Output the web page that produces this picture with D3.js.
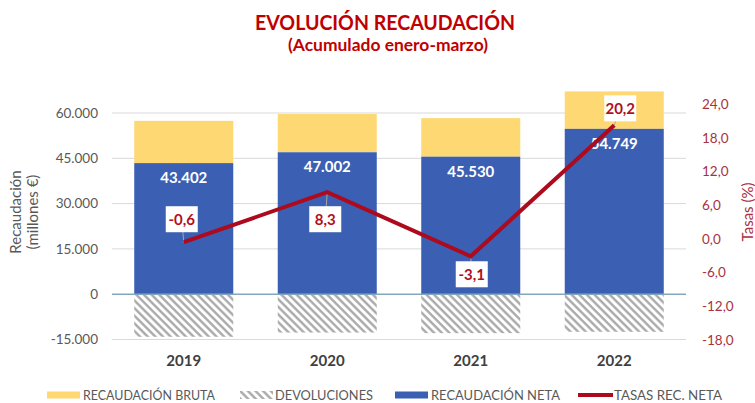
<!DOCTYPE html>
<html>
<head>
<meta charset="utf-8">
<script src="https://cdn.jsdelivr.net/npm/d3@7"></script>
<style>
  html, body { margin: 0; padding: 0; background: #fff; }
  svg { display: block; font-family: Lato, "Open Sans", sans-serif; }
</style>
</head>
<body>
<svg id="chart" width="755" height="403"></svg>
<script>
// ---- data ----
const years = ["2019", "2020", "2021", "2022"];
const recaudacionNeta = [43402, 47002, 45530, 54749];
const recaudacionBruta = [57400, 59650, 58300, 67150];
const devoluciones = [-14100, -12700, -12900, -12450];
const tasasRecNeta = [-0.6, 8.3, -3.1, 20.2];
const leftTicks = [-15000, 0, 15000, 30000, 45000, 60000];
const rightTicks = [-18, -12, -6, 0, 6, 12, 18, 24];
const legendLabels = ["RECAUDACIÓN BRUTA", "DEVOLUCIONES", "RECAUDACIÓN NETA", "TASAS REC. NETA"];

// ---- layout / style ----
const rateLabelOffsets = [[-2, -23], [-2, 27], [1, 18], [6, -17]];
const colBruta = "#FDD873", colNeta = "#3A5FB3", colLine = "#AE0A1E";
const colTitle = "#C00000", colAxis = "#595959", colRight = "#A8323E";

const svg = d3.select("#chart");
const defs = svg.append("defs");
const pat = defs.append("pattern").attr("id", "hatch")
  .attr("patternUnits", "userSpaceOnUse").attr("width", 5.4).attr("height", 5.4)
  .attr("patternTransform", "rotate(-45)");
pat.append("rect").attr("width", 5.4).attr("height", 5.4).attr("fill", "#fff");
pat.append("line").attr("x1", 1.4).attr("y1", 0).attr("x2", 1.4).attr("y2", 5.4)
  .attr("stroke", "#A6A6A6").attr("stroke-width", 2.3);

const x = d3.scaleBand().domain(years).range([112, 686]).paddingInner(0.31).paddingOuter(0.155);
const yL = d3.scaleLinear().domain([-15000, 60000]).range([339.5, 113]);
const yR = d3.scaleLinear().domain([-18, 24]).range([340, 104]);

const fmtL = d3.formatLocale({decimal: ",", thousands: ".", grouping: [3], currency: ["", "€"], minus: "-"});
const fL = fmtL.format(",.0f");
const fR = fmtL.format(",.1f");

function fit(sel, w) {
  sel.attr("textLength", w).attr("lengthAdjust", "spacingAndGlyphs");
  return sel;
}

// title
svg.append("text").attr("x", 385).attr("y", 30).attr("text-anchor", "middle")
  .attr("fill", colTitle).attr("font-weight", 700).attr("font-size", 21)
  .text("EVOLUCIÓN RECAUDACIÓN").call(fit, 260);
svg.append("text").attr("x", 388).attr("y", 51).attr("text-anchor", "middle")
  .attr("fill", colTitle).attr("font-weight", 700).attr("font-size", 17)
  .text("(Acumulado enero-marzo)").call(fit, 200);

// gridlines
svg.append("g").selectAll("line").data(leftTicks.filter(d => d !== 0)).join("line")
  .attr("x1", 112).attr("x2", 686).attr("y1", d => yL(d)).attr("y2", d => yL(d))
  .attr("stroke", "#D9D9D9").attr("stroke-width", 1);

// left axis
const axL = svg.append("g").attr("transform", "translate(112,0)")
  .call(d3.axisLeft(yL).tickValues(leftTicks).tickFormat(fL).tickSize(0).tickPadding(14));
axL.select(".domain").remove();
axL.selectAll("text").attr("fill", colAxis).attr("font-size", 13.5).attr("font-family", "Lato, sans-serif");

// right axis
const axR = svg.append("g").attr("transform", "translate(686,0)")
  .call(d3.axisRight(yR).tickValues(rightTicks).tickFormat(fR).tickSize(0).tickPadding(16));
axR.select(".domain").remove();
axR.selectAll("text").attr("fill", colRight).attr("font-size", 13.5).attr("font-family", "Lato, sans-serif");

// axis titles
const lt = svg.append("text").attr("transform", "translate(21,212) rotate(-90)")
  .attr("text-anchor", "middle").attr("fill", colAxis).attr("font-size", 15);
lt.append("tspan").attr("x", 0).attr("dy", 0).text("Recaudación");
lt.append("tspan").attr("x", 0).attr("dy", 17).text("(millones €)");
svg.append("text").attr("transform", "translate(753,212) rotate(-90)")
  .attr("text-anchor", "middle").attr("fill", colRight).attr("font-size", 15)
  .text("Tasas (%)");

// bars
const bars = svg.append("g");
bars.selectAll(".bruta").data(years).join("rect").attr("class", "bruta")
  .attr("x", d => x(d)).attr("width", x.bandwidth())
  .attr("y", (d, i) => yL(recaudacionBruta[i]))
  .attr("height", (d, i) => yL(recaudacionNeta[i]) - yL(recaudacionBruta[i]))
  .attr("fill", colBruta);
bars.selectAll(".neta").data(years).join("rect").attr("class", "neta")
  .attr("x", d => x(d)).attr("width", x.bandwidth())
  .attr("y", (d, i) => yL(recaudacionNeta[i]))
  .attr("height", (d, i) => yL(0) - yL(recaudacionNeta[i]))
  .attr("fill", colNeta);
bars.selectAll(".dev").data(years).join("rect").attr("class", "dev")
  .attr("x", d => x(d)).attr("width", x.bandwidth())
  .attr("y", yL(0))
  .attr("height", (d, i) => yL(devoluciones[i]) - yL(0))
  .attr("fill", "url(#hatch)");

// zero line
svg.append("line").attr("x1", 112).attr("x2", 686).attr("y1", yL(0)).attr("y2", yL(0))
  .attr("stroke", "#86A6C0").attr("stroke-width", 1.5);

// net labels
svg.append("g").selectAll("text").data(years).join("text")
  .attr("x", d => x(d) + x.bandwidth() / 2)
  .attr("y", (d, i) => yL(recaudacionNeta[i]) + 20)
  .attr("text-anchor", "middle").attr("fill", "#fff").attr("font-weight", 700).attr("font-size", 15)
  .text((d, i) => fL(recaudacionNeta[i]));

// line
const cx = d => x(d) + x.bandwidth() / 2;
const pts = years.map((d, i) => [cx(d), yR(tasasRecNeta[i])]);

// leader lines
svg.append("g").selectAll("line").data(years).join("line")
  .attr("x1", (d, i) => pts[i][0]).attr("y1", (d, i) => pts[i][1])
  .attr("x2", (d, i) => pts[i][0] + rateLabelOffsets[i][0])
  .attr("y2", (d, i) => pts[i][1] + rateLabelOffsets[i][1])
  .attr("stroke", "#A6A6A6").attr("stroke-width", 1);

svg.append("path").datum(pts).attr("d", d3.line())
  .attr("fill", "none").attr("stroke", colLine).attr("stroke-width", 4).attr("stroke-linejoin", "miter");

// rate labels
const rl = svg.append("g").selectAll("g").data(years).join("g")
  .attr("transform", (d, i) => `translate(${pts[i][0] + rateLabelOffsets[i][0]},${pts[i][1] + rateLabelOffsets[i][1]})`);
rl.append("rect").attr("x", -16).attr("y", -13).attr("width", 32).attr("height", 26).attr("fill", "#fff");
rl.append("text").attr("text-anchor", "middle").attr("dy", "0.36em")
  .attr("fill", "#B0101E").attr("font-weight", 700).attr("font-size", 15)
  .text((d, i) => fR(tasasRecNeta[i]));

// x labels
svg.append("g").selectAll("text").data(years).join("text")
  .attr("x", d => cx(d)).attr("y", 366).attr("text-anchor", "middle")
  .attr("fill", "#404040").attr("font-weight", 700).attr("font-size", 15)
  .text(d => d);

// legend
const lg = svg.append("g");
const lgY = 395;
lg.append("rect").attr("x", 47).attr("y", lgY - 3.5).attr("width", 33).attr("height", 7).attr("fill", colBruta);
lg.append("rect").attr("x", 240).attr("y", lgY - 4).attr("width", 33).attr("height", 8).attr("fill", "url(#hatch)");
lg.append("rect").attr("x", 395).attr("y", lgY - 3.5).attr("width", 33).attr("height", 7).attr("fill", colNeta);
lg.append("line").attr("x1", 578).attr("x2", 613).attr("y1", lgY).attr("y2", lgY).attr("stroke", colLine).attr("stroke-width", 4);
const lgText = [[83, 132], [275, 98], [431, 129], [614, 108]];
lg.selectAll("text").data(legendLabels).join("text")
  .attr("x", (d, i) => lgText[i][0]).attr("y", lgY + 5)
  .attr("fill", colAxis).attr("font-size", 13.5)
  .text(d => d)
  .each(function(d, i) { d3.select(this).attr("textLength", lgText[i][1]).attr("lengthAdjust", "spacingAndGlyphs"); });
</script>
</body>
</html>
